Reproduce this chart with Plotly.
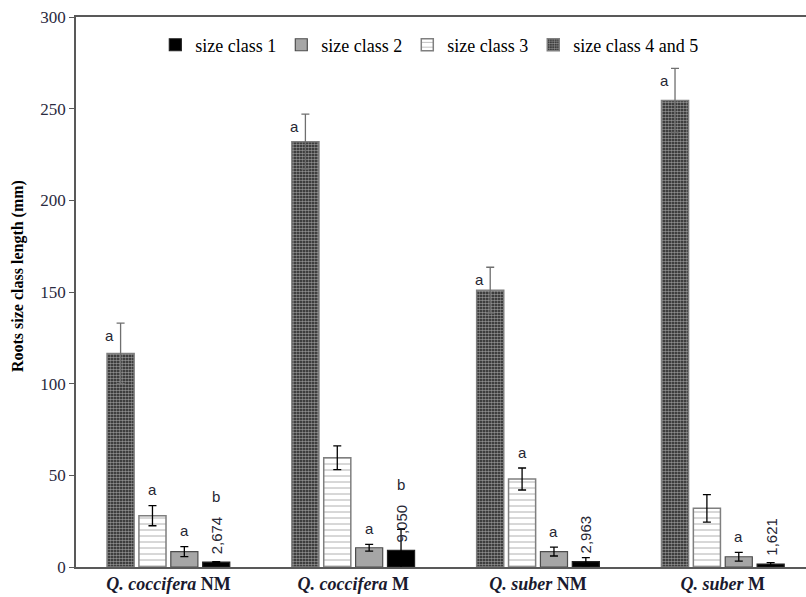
import plotly.graph_objects as go

# ---------------- data ----------------
categories = [0, 1, 2, 3]
category_labels = ["<b><i>Q. coccifera</i> NM</b>", "<b><i>Q. coccifera</i> M</b>",
                   "<b><i>Q. suber</i> NM</b>", "<b><i>Q. suber</i> M</b>"]

class45 = [116.5, 232.0, 151.0, 254.5]
err45 = [16.5, 15.0, 12.5, 17.5]
class3 = [28.0, 59.6, 48.0, 32.0]
err3 = [5.5, 6.5, 6.0, 7.5]
class2 = [8.4, 10.5, 8.4, 5.6]
err2 = [2.7, 1.8, 2.4, 2.4]
class1 = [2.674, 9.050, 2.963, 1.621]
err1 = [0.3, 11.5, 2.2, 0.8]

letters45 = ["a", "a", "a", "a"]
letters3 = ["a", "", "a", ""]
letters2 = ["a", "a", "a", "a"]
letters1 = ["b", "b", "", ""]
value_labels1 = ["2,674", "9,050", "2,963", "1,621"]

y_ticks = [0, 50, 100, 150, 200, 250, 300]

# ---------------- styling ----------------
BARGAP = 0.31
BARGROUPGAP = 0.15
N_SERIES = 4
slot = (1 - BARGAP) / N_SERIES
SERIF = "Liberation Serif, Times New Roman, serif"
SANS = "Liberation Sans, Arial, sans-serif"
LABEL_COLOR = "#262633"

fig = go.Figure()

fig.add_trace(go.Bar(
    x=categories, y=class45, name="size class 4 and 5", legendrank=4,
    marker=dict(color="#1a1a1a", line=dict(color="#7f7f7f", width=1.5),
                pattern=dict(shape=".", fgcolor="white", bgcolor="#1a1a1a", size=3, solidity=0.6)),
    error_y=dict(type="data", array=err45, color="#6f6f6f", thickness=1.3, width=4),
))
fig.add_trace(go.Bar(
    x=categories, y=class3, name="size class 3", legendrank=3,
    marker=dict(color="white", line=dict(color="#7f7f7f", width=1.5),
                pattern=dict(shape="-", fgcolor="#505050", bgcolor="white", size=6, solidity=0.15)),
    error_y=dict(type="data", array=err3, color="black", thickness=1.3, width=4),
))
fig.add_trace(go.Bar(
    x=categories, y=class2, name="size class 2", legendrank=2,
    marker=dict(color="#a6a6a6", line=dict(color="#4d4d4d", width=1.2)),
    error_y=dict(type="data", array=err2, color="black", thickness=1.3, width=4),
))
fig.add_trace(go.Bar(
    x=categories, y=class1, name="size class 1", legendrank=1,
    marker=dict(color="black", line=dict(color="#222222", width=1.2)),
    error_y=dict(type="data", array=err1, color="black", thickness=1.3, width=4),
))

annotations = []


def bar_x(i, k):
    return i + (k - (N_SERIES - 1) / 2) * slot


# class 4&5 letters: left of error bar top
for i, (v, e, t) in enumerate(zip(class45, err45, letters45)):
    if t:
        annotations.append(dict(x=bar_x(i, 0), y=v + e, text=t, showarrow=False,
                                xanchor="center", yanchor="middle", xshift=-11, yshift=-12,
                                font=dict(family=SANS, size=15, color=LABEL_COLOR)))
# class 3 and class 2 letters: above error bar
for k, (vals, errs, letters) in enumerate([(class3, err3, letters3), (class2, err2, letters2)], start=1):
    for i, (v, e, t) in enumerate(zip(vals, errs, letters)):
        if t:
            annotations.append(dict(x=bar_x(i, k), y=v + e, text=t, showarrow=False,
                                    xanchor="center", yanchor="middle", yshift=16,
                                    font=dict(family=SANS, size=15, color=LABEL_COLOR)))
# class 1: rotated values and letters
for i, (v, lab, t) in enumerate(zip(class1, value_labels1, letters1)):
    annotations.append(dict(x=bar_x(i, 3), y=v, text=lab, showarrow=False, textangle=-90,
                            xanchor="center", yanchor="bottom", yshift=6,
                            font=dict(family=SANS, size=15, color=LABEL_COLOR)))
    if t:
        annotations.append(dict(x=bar_x(i, 3), y=v, text=t, showarrow=False,
                                xanchor="center", yanchor="middle", yshift=66,
                                font=dict(family=SANS, size=15, color=LABEL_COLOR)))

# y-axis title as annotation
annotations.append(dict(xref="paper", yref="paper", x=0, y=0.529, xshift=-58,
                        text="<b>Roots size class length (mm)</b>", textangle=-90, showarrow=False,
                        xanchor="center", yanchor="middle",
                        font=dict(family=SERIF, size=16, color="black")))

fig.update_layout(
    width=806, height=597,
    margin=dict(l=76, r=0, t=17, b=30, pad=0),
    paper_bgcolor="white", plot_bgcolor="white",
    barmode="group", bargap=BARGAP, bargroupgap=BARGROUPGAP,
    showlegend=True,
    legend=dict(orientation="h", x=0.484, xanchor="center", y=0.949, yanchor="middle",
                font=dict(family=SERIF, size=18, color="black"),
                bgcolor="rgba(0,0,0,0)", itemwidth=30, tracegroupgap=0),
    annotations=annotations,
    xaxis=dict(tickmode="array", tickvals=categories, ticktext=category_labels,
               range=[-0.5, 3.45], showline=True, linecolor="#595959", linewidth=1.5,
               mirror=True, ticks="", showgrid=False, zeroline=False,
               tickfont=dict(family=SERIF, size=18, color="#1a1a2e")),
    yaxis=dict(range=[0, 300], tickvals=y_ticks, showline=True, linecolor="#595959", linewidth=1.5,
               ticks="outside", ticklen=5, tickcolor="#595959", showgrid=False, zeroline=False,
               tickfont=dict(family=SERIF, size=17, color="#2a2a40")),
)

fig.write_html("out.html", config={"displayModeBar": False},
               post_script="document.body.style.margin='0';document.body.style.overflow='hidden';")
